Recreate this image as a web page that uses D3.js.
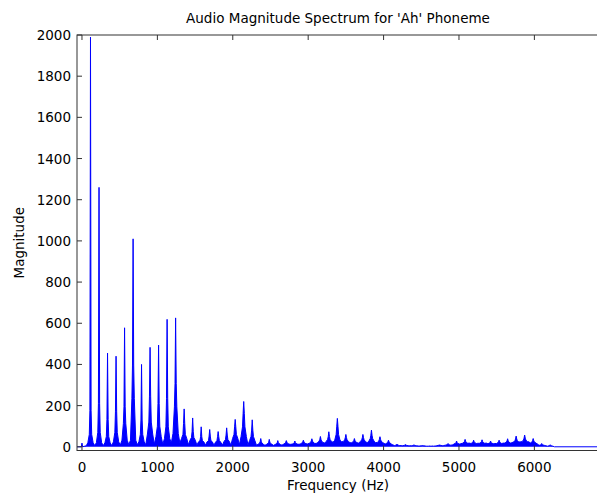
<!DOCTYPE html>
<html>
<head>
<meta charset="utf-8">
<script src="https://cdn.jsdelivr.net/npm/d3@7"></script>
<style>
  body { margin: 0; background: #fff; }
  text { font-family: "DejaVu Sans", sans-serif; font-size: 13.5px; fill: #000; }
</style>
</head>
<body>
<div id="chart"></div>
<script>
// harmonic frequencies (Hz)
const harmonicHz = [113, 226, 339, 452, 565, 678, 790, 903, 1016, 1129, 1242, 1355, 1468, 1581, 1694,
  1806, 1919, 2032, 2145, 2258, 2371, 2484, 2597, 2710, 2823, 2936, 3049, 3162, 3274, 3387,
  3500, 3613, 3726, 3839, 3952, 4065, 4178, 4290, 4403, 4516, 4629, 4742, 4855, 4968, 5081,
  5194, 5306, 5419, 5532, 5645, 5758, 5871, 5984, 6097, 6210];

// spike tops
const peakMag = [1990, 1260, 455, 440, 578, 1010, 400, 483, 494, 619, 626, 184, 140, 97, 84,
  74, 92, 133, 220, 131, 40, 36, 30, 30, 28, 32, 39, 50, 73, 138,
  60, 40, 60, 81, 49, 32, 13, 11, 10, 8, 5, 10, 16, 28, 36,
  32, 34, 28, 32, 39, 52, 57, 40, 16, 10];

// thick part just under the spike
const midMag = [175, 210, 133, 173, 194, 397, 130, 246, 210, 235, 308, 113, 73, 49, 52,
  49, 57, 97, 162, 81, 24, 22, 20, 22, 20, 24, 28, 36, 50, 100,
  44, 30, 44, 56, 36, 24, 9, 8, 7, 5, 3, 7, 11, 20, 26,
  24, 25, 20, 24, 28, 38, 42, 30, 11, 6];

// wider lower part
const lowMag = [60, 70, 50, 70, 113, 235, 60, 120, 100, 97, 194, 60, 45, 30, 30,
  30, 35, 60, 97, 50, 18, 17, 16, 17, 16, 19, 22, 28, 36, 60,
  34, 25, 34, 40, 28, 20, 8, 7, 6, 5, 4, 7, 10, 17, 22,
  20, 21, 18, 20, 24, 30, 33, 25, 9, 5];

// foot of each harmonic
const footMag = [20, 20, 19, 24, 32, 32, 24, 62, 49, 40, 65, 40, 32, 24, 24,
  22, 26, 40, 50, 30, 12, 12, 11, 13, 13, 15, 17, 21, 26, 32,
  25, 20, 25, 27, 21, 14, 6, 5, 5, 4, 3, 5, 8, 13, 17,
  16, 17, 15, 16, 18, 23, 25, 18, 7, 3];

// valley after each harmonic
const troughMag = [6, 6, 6, 8, 10, 10, 10, 12, 12, 18, 18, 10, 8, 8, 8,
  8, 8, 10, 10, 8, 7, 7, 8, 12, 12, 14, 16, 18, 22, 25,
  20, 18, 20, 20, 16, 10, 6, 5, 4, 3, 4, 6, 9, 15, 18,
  17, 18, 16, 18, 20, 24, 24, 14, 5, 0];

const xTicks = [0, 1000, 2000, 3000, 4000, 5000, 6000];
const yTicks = [0, 200, 400, 600, 800, 1000, 1200, 1400, 1600, 1800, 2000];

const width = 597;
const height = 497;
const plotLeft = 77, plotRight = 599, plotTop = 35, plotBottom = 450.5;

const svg = d3.select("#chart")
  .append("svg")
  .attr("width", width)
  .attr("height", height);

const x = d3.scaleLinear().domain([-66, 6857]).range([plotLeft, plotRight]);
const y = d3.scaleLinear().domain([-18, 2000]).range([plotBottom, plotTop]);

// build spectrum outline from the harmonic table
const pts = [[-66, 0], [-8, 0], [0, 18], [8, 0], [57, 5]];
harmonicHz.forEach((f, i) => {
  pts.push([f - 35, footMag[i]], [f - 16, lowMag[i]], [f - 8, midMag[i]], [f, peakMag[i]],
    [f + 8, midMag[i]], [f + 16, lowMag[i]], [f + 35, footMag[i]], [f + 56, troughMag[i]]);
});
pts.push([6857, 0]);

svg.append("path")
  .datum(pts)
  .attr("fill", "#0000ff")
  .attr("d", d3.area().x(d => x(d[0])).y0(y(0)).y1(d => y(d[1])));

svg.append("path")
  .datum(pts)
  .attr("fill", "none")
  .attr("stroke", "#0000ff")
  .attr("stroke-width", 1)
  .attr("d", d3.line().x(d => x(d[0])).y(d => y(d[1])));

// axes box
const axisColor = "#333";
svg.append("rect")
  .attr("x", plotLeft).attr("y", plotTop)
  .attr("width", plotRight - plotLeft).attr("height", plotBottom - plotTop)
  .attr("fill", "none").attr("stroke", axisColor);

// x ticks, inward at bottom and top
xTicks.forEach(t => {
  svg.append("line").attr("x1", x(t)).attr("x2", x(t)).attr("y1", plotBottom).attr("y2", plotBottom - 5).attr("stroke", axisColor);
  svg.append("line").attr("x1", x(t)).attr("x2", x(t)).attr("y1", plotTop).attr("y2", plotTop + 5).attr("stroke", axisColor);
  svg.append("text").attr("x", x(t)).attr("y", 472).attr("text-anchor", "middle").text(t);
});

// y ticks, inward
yTicks.forEach(t => {
  svg.append("line").attr("x1", plotLeft).attr("x2", plotLeft + 5).attr("y1", y(t)).attr("y2", y(t)).attr("stroke", axisColor);
  svg.append("text").attr("x", 71).attr("y", y(t) + 5).attr("text-anchor", "end").text(t);
});

svg.append("text")
  .attr("x", (plotLeft + plotRight) / 2).attr("y", 23)
  .attr("text-anchor", "middle")
  .text("Audio Magnitude Spectrum for 'Ah' Phoneme");

svg.append("text")
  .attr("x", (plotLeft + plotRight) / 2).attr("y", 490)
  .attr("text-anchor", "middle")
  .text("Frequency (Hz)");

svg.append("text")
  .attr("transform", `translate(24, ${(plotTop + plotBottom) / 2}) rotate(-90)`)
  .attr("text-anchor", "middle")
  .text("Magnitude");
</script>
</body>
</html>
